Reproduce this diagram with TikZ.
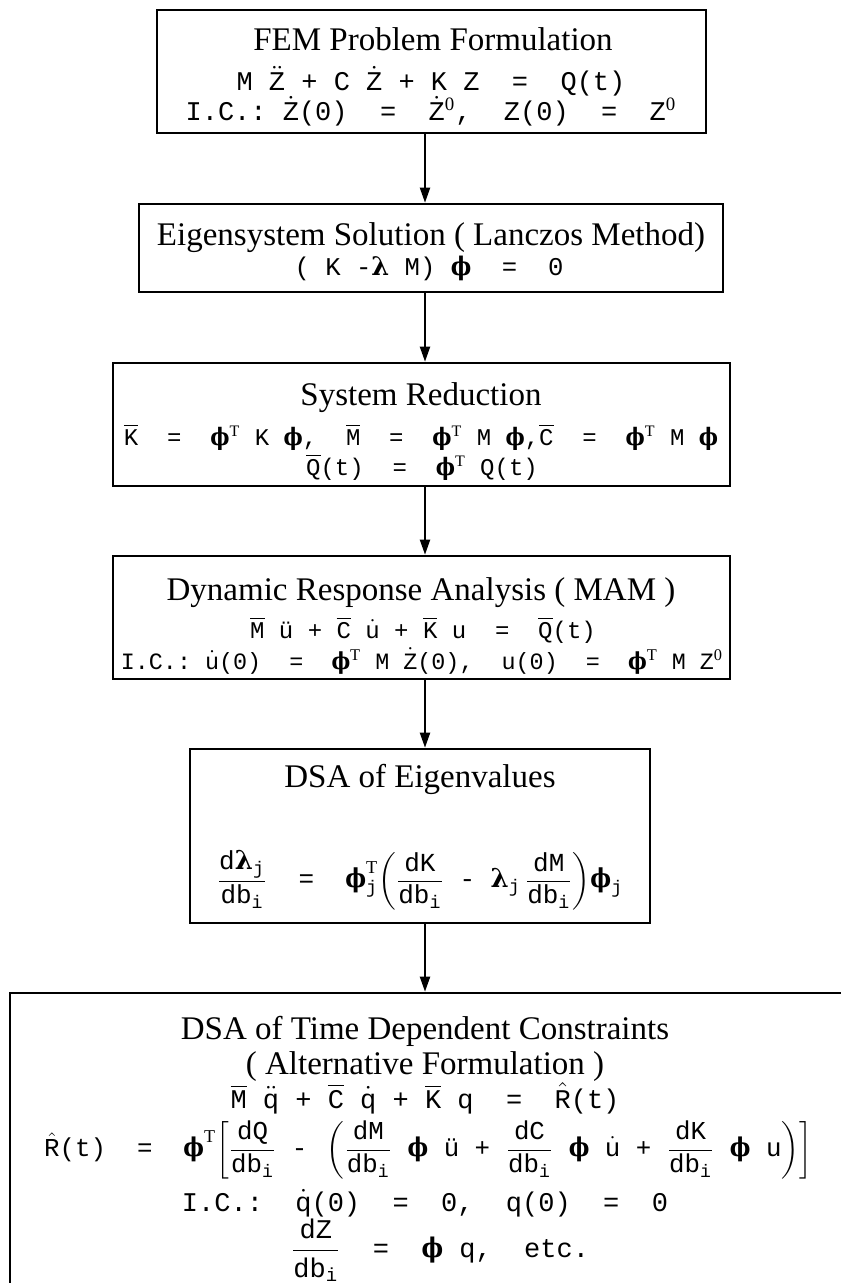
\documentclass[tikz,border=0pt]{standalone}
\usepackage{amsmath}
\usepackage{graphicx}
\usepackage{fontspec}
\setmainfont{Liberation Serif}
\setmonofont{Liberation Mono}
\newfontfamily\grkfont{DejaVu Serif}
\usetikzlibrary{arrows.meta,fit}

\newcommand{\bphi}{\mbox{\scalebox{0.85}[1]{\grkfont\bfseries ϕ}}}
\newcommand{\phT}{\bphi\textsuperscript{\rmfamily T}}
\newcommand{\blam}{\mbox{\grkfont\bfseries λ}}
\newcommand{\ovr}[1]{\ensuremath{\overline{\hbox{#1}}}}
\newcommand{\dta}[1]{\ensuremath{\dot{\hbox{#1}}}}
\newcommand{\ddta}[1]{\ensuremath{\ddot{\hbox{#1}}}}
\newcommand{\hta}[1]{\ensuremath{\hat{\hbox{#1}}}}
\newcommand{\ddb}[1]{\ensuremath{\dfrac{\hbox{#1}}{\hbox{db}_{\texttt{i}}}}}

\begin{document}
\begin{tikzpicture}[x=0.5pt,y=-0.5pt,
    stage/.style={draw,line width=1.3pt,inner sep=0pt},
    ttl/.style={anchor=base,inner sep=0pt,font=\fontsize{16.5}{19}\selectfont},
    eqn/.style={anchor=base,inner sep=0pt,font=\fontsize{13.5}{16}\selectfont\ttfamily},
    eqs/.style={anchor=base,inner sep=0pt,font=\fontsize{12}{14}\selectfont\ttfamily},
    flow/.style={line width=1pt,-{Triangle[length=7.5pt,width=5pt]}}]
  \useasboundingbox (0,0) rectangle (840,1283);
  \coordinate (ax) at (425,0);

  % FEM problem
  \node[stage,fit={(157,10) (706,133)}] (fem) {};
  \node[ttl] (femT) at (433,51) {FEM Problem Formulation};
  \node[eqn] (femA) at (431,91) {M \ddta{Z} + C \dta{Z} + K Z~~=~~Q(t)};
  \node[eqn] (femB) at (431,121) {I.C.: \dta{Z}(0)~~=~~\dta{Z}\textsuperscript{\rmfamily 0},~~Z(0)~~=~~Z\textsuperscript{\rmfamily 0}};

  % eigensystem
  \node[stage,fit={(139,204) (723,292)}] (eig) {};
  \node[ttl] (eigT) at (431,246) {Eigensystem Solution ( Lanczos Method)};
  \node[eqn,font=\fontsize{12.8}{15}\selectfont\ttfamily] (eigA) at (429,276) {( K -\blam{} M) \bphi{}~~=~~0};

  % reduction
  \node[stage,fit={(113,363) (730,486)}] (red) {};
  \node[ttl] (redT) at (421,405) {System Reduction};
  \node[eqs] (redA) at (421,445) {\ovr{K}~~=~~\phT{} K \bphi,~~\ovr{M}~~=~~\phT{} M \bphi,\ovr{C}~~=~~\phT{} M \bphi};
  \node[eqs] (redB) at (422,475) {\ovr{Q}(t)~~=~~\phT{} Q(t)};

  % response
  \node[stage,fit={(113,556) (730,679)}] (dyn) {};
  \node[ttl] (dynT) at (421,600) {Dynamic Response Analysis ( MAM )};
  \node[eqs] (dynA) at (423,638) {\ovr{M} ü + \ovr{C} \dta{u} + \ovr{K} u~~=~~\ovr{Q}(t)};
  \node[eqs,font=\fontsize{11.7}{14}\selectfont\ttfamily] (dynB) at (422,669) {I.C.: \dta{u}(0)~~=~~\phT{} M \dta{Z}(0),~~u(0)~~=~~\phT{} M Z\textsuperscript{\rmfamily 0}};

  % eigenvalue DSA
  \node[stage,fit={(190,749) (650,923)}] (dsa) {};
  \node[ttl] (dsaT) at (420,787) {DSA of Eigenvalues};
  \node[eqn,anchor=center,font=\fontsize{13}{15}\selectfont\ttfamily] (dsaA) at (420,880) {$\dfrac{\hbox{d}\blam_{\texttt{j}}}{\hbox{db}_{\texttt{i}}}\hbox{~~=~~}\bphi^{\mathrm{T}}_{\texttt{j}}\!\left(\ddb{dK}\hbox{~-~}\blam_{\texttt{j}}\,\ddb{dM}\right)\!\bphi_{\texttt{j}}$};

  % time dependent DSA
  \node[stage,fit={(10,993) (880,1330)}] (tdc) {};
  \node[ttl] (tdcT) at (425,1039) {DSA of Time Dependent Constraints};
  \node[ttl] (tdcS) at (425,1074) {( Alternative Formulation )};
  \node[eqn] (tdcA) at (425,1108) {\ovr{M} \ddta{q} + \ovr{C} \dta{q} + \ovr{K} q~~=~~\hta{R}(t)};
  \node[eqn,anchor=center,font=\fontsize{12.9}{15}\selectfont\ttfamily] (tdcB) at (428,1150) {$\hta{R}\hbox{(t)~~=~~}\bphi^{\mathrm{T}}\!\left[\ddb{dQ}\hbox{~-~}\left(\ddb{dM}\hbox{~}\bphi\hbox{~ü~+~}\ddb{dC}\hbox{~}\bphi\hbox{~}\dta{u}\hbox{~+~}\ddb{dK}\hbox{~}\bphi\hbox{~u}\right)\right]$};
  \node[eqn] (tdcC) at (425,1211) {I.C.:~~\dta{q}(0)~~=~~0,~~q(0)~~=~~0};
  \node[eqn,anchor=center] (tdcD) at (440,1250) {$\ddb{dZ}\hbox{~~=~~}\bphi\hbox{~q,~~etc.}$};

  \draw[flow] (fem.south -| ax) -- (eig.north -| ax);
  \draw[flow] (eig.south -| ax) -- (red.north -| ax);
  \draw[flow] (red.south -| ax) -- (dyn.north -| ax);
  \draw[flow] (dyn.south -| ax) -- (dsa.north -| ax);
  \draw[flow] (dsa.south -| ax) -- (tdc.north -| ax);
\end{tikzpicture}
\end{document}
